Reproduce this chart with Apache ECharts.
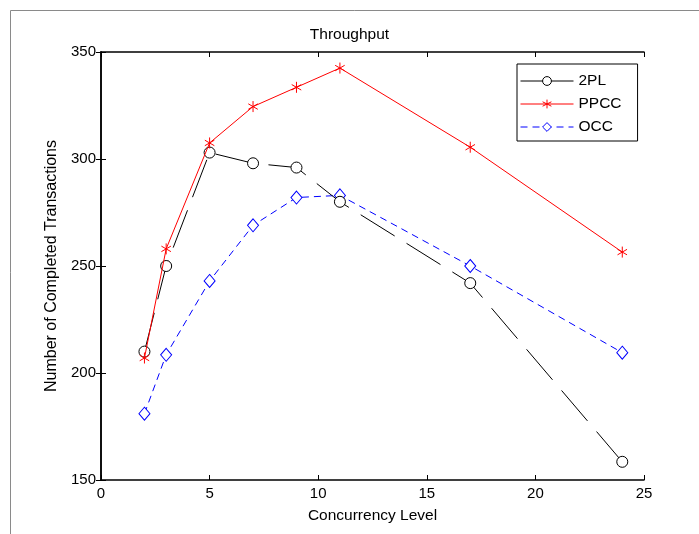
<!DOCTYPE html>
<html><head><meta charset="utf-8">
<script src="https://cdn.jsdelivr.net/npm/echarts@6/dist/echarts.min.js"></script>
<style>html,body{margin:0;padding:0;background:#fff}#c{width:699px;height:534px}</style>
</head><body><div id="c"></div>
<script>
var concurrency = [2, 3, 5, 7, 9, 11, 17, 24];
var twoPL = [210, 250, 303, 298, 296, 280, 242, 158.5];
var ppcc = [207, 258, 307.5, 324.5, 333.5, 342.5, 305.5, 256.5];
var occ = [181, 208.5, 243, 269, 282, 283, 250, 209.5];
var seriesNames = ['2PL', 'PPCC', 'OCC'];
var xTicks = [0, 5, 10, 15, 20, 25];
var yTicks = [150, 200, 250, 300, 350];

function pairs(ys){ return concurrency.map(function(x,i){ return [x, ys[i]]; }); }
var font = 'Liberation Sans, Arial, sans-serif';
var asterisk = 'path://M0,-5 L0,5 M-4.33,-2.5 L4.33,2.5 M-4.33,2.5 L4.33,-2.5';

var chart = echarts.init(document.getElementById('c'), null, {renderer:'canvas'});
var axisCommon = {
  type:'value', axisLine:{show:true, lineStyle:{color:'#000', width:1.5}},
  axisTick:{show:true, inside:true, length:5, lineStyle:{color:'#000', width:1}},
  splitLine:{show:false}
};
chart.setOption({
  animation:false,
  backgroundColor:'#fff',
  title:{text:'Throughput', left:'center', top:22, textStyle:{fontFamily:font, fontSize:15.5, fontWeight:'normal', color:'#000'}},
  grid:{left:101, right:55, top:52, bottom:54, containLabel:false},
  legend:{
    data:[
      {name:seriesNames[0], lineStyle:{type:'solid', width:1}, itemStyle:{borderWidth:1}},
      {name:seriesNames[1], lineStyle:{width:1}, itemStyle:{borderWidth:1}},
      {name:seriesNames[2], lineStyle:{width:1}, itemStyle:{borderWidth:1}}
    ],
    orient:'vertical', left:517, top:64,
    itemWidth:53, itemHeight:11, itemGap:7,
    padding:[9,16,6,3], borderColor:'#000', borderWidth:1, backgroundColor:'#fff',
    textStyle:{fontFamily:font, fontSize:15.5, color:'#000', width:42}
  },
  xAxis:[
    Object.assign({}, axisCommon, {min:xTicks[0], max:xTicks[xTicks.length-1], interval:5, position:'bottom',
      name:'Concurrency Level', nameLocation:'middle', nameGap:28,
      nameTextStyle:{fontFamily:font, fontSize:15.5, color:'#000'},
      axisLabel:{fontFamily:font, fontSize:15, color:'#000', margin:6}}),
    Object.assign({}, axisCommon, {min:xTicks[0], max:xTicks[xTicks.length-1], interval:5, position:'top', axisLabel:{show:false}})
  ],
  yAxis:[
    Object.assign({}, axisCommon, {min:yTicks[0], max:yTicks[yTicks.length-1], interval:50, position:'left',
      name:'Number of Completed Transactions', nameLocation:'middle', nameGap:33,
      nameTextStyle:{fontFamily:font, fontSize:16, color:'#000'},
      axisLabel:{fontFamily:font, fontSize:15, color:'#000', margin:5}}),
    Object.assign({}, axisCommon, {min:yTicks[0], max:yTicks[yTicks.length-1], interval:50, position:'right', axisLabel:{show:false}})
  ],
  graphic:[
    {type:'line', shape:{x1:10.5, y1:10.5, x2:699, y2:10.5}, style:{stroke:'#8a8a8a', lineWidth:1}, silent:true},
    {type:'line', shape:{x1:10.5, y1:10.5, x2:10.5, y2:534}, style:{stroke:'#8a8a8a', lineWidth:1}, silent:true}
  ],
  series:[
    {name:seriesNames[0], type:'line', data:pairs(twoPL), symbol:'circle', symbolSize:11,
      lineStyle:{color:'#000', width:1, type:[40,14]}, itemStyle:{color:'#fff', borderColor:'#000', borderWidth:1}, z:3},
    {name:seriesNames[1], type:'line', data:pairs(ppcc), symbol:asterisk, symbolSize:11, symbolKeepAspect:true,
      lineStyle:{color:'#ff0000', width:1}, itemStyle:{color:'#ff0000', borderColor:'#ff0000', borderWidth:1}, z:4},
    {name:seriesNames[2], type:'line', data:pairs(occ), symbol:'diamond', symbolSize:[11,13],
      lineStyle:{color:'#0000ff', width:1, type:[7,5]}, itemStyle:{color:'#fff', borderColor:'#0000ff', borderWidth:1}, z:2}
  ]
});
</script>
</body></html>
